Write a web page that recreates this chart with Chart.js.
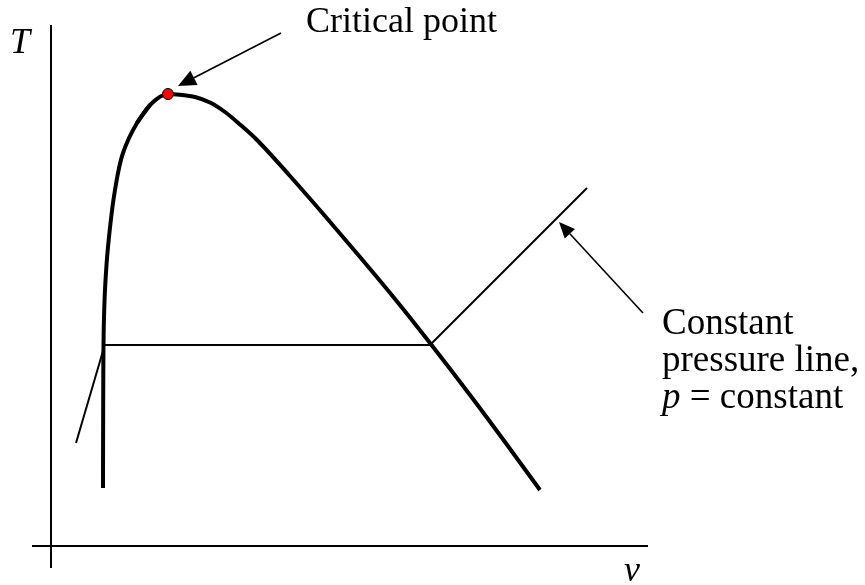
<!DOCTYPE html>
<html>
<head>
<meta charset="utf-8">
<script src="https://cdn.jsdelivr.net/npm/chart.js@4/dist/chart.umd.min.js"></script>
<style>
  html, body { margin: 0; padding: 0; background: #fff; }
  #wrap { width: 865px; height: 585px; }
</style>
</head>
<body>
<div id="wrap"><canvas id="tvChart" width="865" height="585"></canvas></div>
<script>
// T-v diagram, units: v and T measured from the axis origin
// saturated liquid branch (bottom -> near the top)
const liquidLine = [
  [5.20, 5.80], [5.22, 14.60], [5.28, 22.00], [5.42, 26.00], [5.70, 29.90],
  [6.40, 35.60], [7.20, 39.30], [8.60, 42.30], [9.90, 44.10]
];
// saturated vapour branch, starting a little below the critical point on the liquid side
const vaporLine = [
  [8.60, 42.30], [9.90, 44.10], [11.70, 45.20],
  [12.90, 45.12], [14.40, 44.90], [15.90, 44.35], [17.40, 43.40], [18.90, 42.15],
  [20.60, 40.60], [23.90, 37.00], [27.40, 33.00], [30.90, 28.90], [34.40, 24.70],
  [37.90, 20.30], [41.90, 15.10], [45.40, 10.40], [48.90, 5.60]
];
const isobar = [[2.5, 10.3], [5.2, 19.5], [5.2, 20.1], [37.9, 20.1], [53.6, 35.8]];
const criticalPoint = [11.7, 45.2];
const vAxisLine = [[-1.9, 0], [59.7, 0]];
const tAxisLine = [[0, -2.2], [0, 52.1]];
// arrows: [from, to(tip)]
const criticalArrow = [[23.0, 51.3], [12.7, 46.0]];
const isobarArrow = [[59.2, 23.3], [50.8, 32.4]];

const pts = arr => arr.map(p => ({ x: p[0], y: p[1] }));

const lineSet = (data, width, smooth, axis) => ({
  data: pts(data),
  indexAxis: axis || 'x',
  showLine: true,
  borderColor: '#000',
  borderWidth: width,
  borderCapStyle: 'butt',
  borderJoinStyle: 'round',
  pointRadius: 0,
  pointHoverRadius: 0,
  cubicInterpolationMode: smooth ? 'monotone' : 'default',
  tension: 0,
  fill: false
});

const annotate = {
  id: 'annotate',
  afterDatasetsDraw(chart) {
    const { ctx, scales } = chart;
    const px = p => [scales.x.getPixelForValue(p[0]), scales.y.getPixelForValue(p[1])];

    const arrow = (a, headLen, headHalf) => {
      const [x0, y0] = px(a[0]);
      const [x1, y1] = px(a[1]);
      const ang = Math.atan2(y1 - y0, x1 - x0);
      const bx = x1 - headLen * Math.cos(ang);
      const by = y1 - headLen * Math.sin(ang);
      ctx.save();
      ctx.strokeStyle = '#000';
      ctx.lineWidth = 1.6;
      ctx.beginPath();
      ctx.moveTo(x0, y0);
      ctx.lineTo(bx, by);
      ctx.stroke();
      ctx.fillStyle = '#000';
      ctx.beginPath();
      ctx.moveTo(x1, y1);
      ctx.lineTo(bx + headHalf * Math.sin(ang), by - headHalf * Math.cos(ang));
      ctx.lineTo(bx - headHalf * Math.sin(ang), by + headHalf * Math.cos(ang));
      ctx.closePath();
      ctx.fill();
      ctx.restore();
    };
    arrow(criticalArrow, 18, 8);
    arrow(isobarArrow, 16, 7);

    const serif = '"Liberation Serif", "Times New Roman", serif';
    ctx.save();
    ctx.fillStyle = '#000';
    ctx.textBaseline = 'alphabetic';
    ctx.font = '36px ' + serif;
    ctx.fillText('Critical point', 306, 32);
    ctx.font = '37px ' + serif;
    ctx.fillText('Constant', 662, 334);
    ctx.fillText('pressure line,', 662, 371);
    ctx.font = 'italic 37px ' + serif;
    ctx.fillText('p', 662, 408);
    const pw = ctx.measureText('p').width;
    ctx.font = '37px ' + serif;
    ctx.fillText(' = constant', 662 + pw, 408);
    ctx.font = 'italic 36px ' + serif;
    ctx.fillText('T', 10, 53);
    ctx.fillText('v', 624, 581);
    ctx.restore();
  }
};

new Chart(document.getElementById('tvChart'), {
  type: 'scatter',
  data: {
    datasets: [
      lineSet(tAxisLine, 2, false),
      lineSet(vAxisLine, 2, false),
      lineSet(isobar, 2, false),
      lineSet(liquidLine, 4, true, 'y'),
      lineSet(vaporLine, 4, true, 'x'),
      {
        data: pts([criticalPoint]),
        order: -1, // draw on top of the dome line
        pointRadius: 5.5,
        pointHoverRadius: 5.5,
        pointBackgroundColor: '#ff0000',
        pointBorderColor: '#000',
        pointBorderWidth: 1,
        showLine: false
      }
    ]
  },
  options: {
    responsive: false,
    animation: false,
    events: [],
    layout: { padding: 0, autoPadding: false },
    plugins: { legend: { display: false }, tooltip: { enabled: false }, title: { display: false } },
    scales: {
      x: { type: 'linear', min: -5.1, max: 81.4, display: false },
      y: { type: 'linear', min: -3.9, max: 54.6, display: false }
    }
  },
  plugins: [annotate]
});
</script>
</body>
</html>
